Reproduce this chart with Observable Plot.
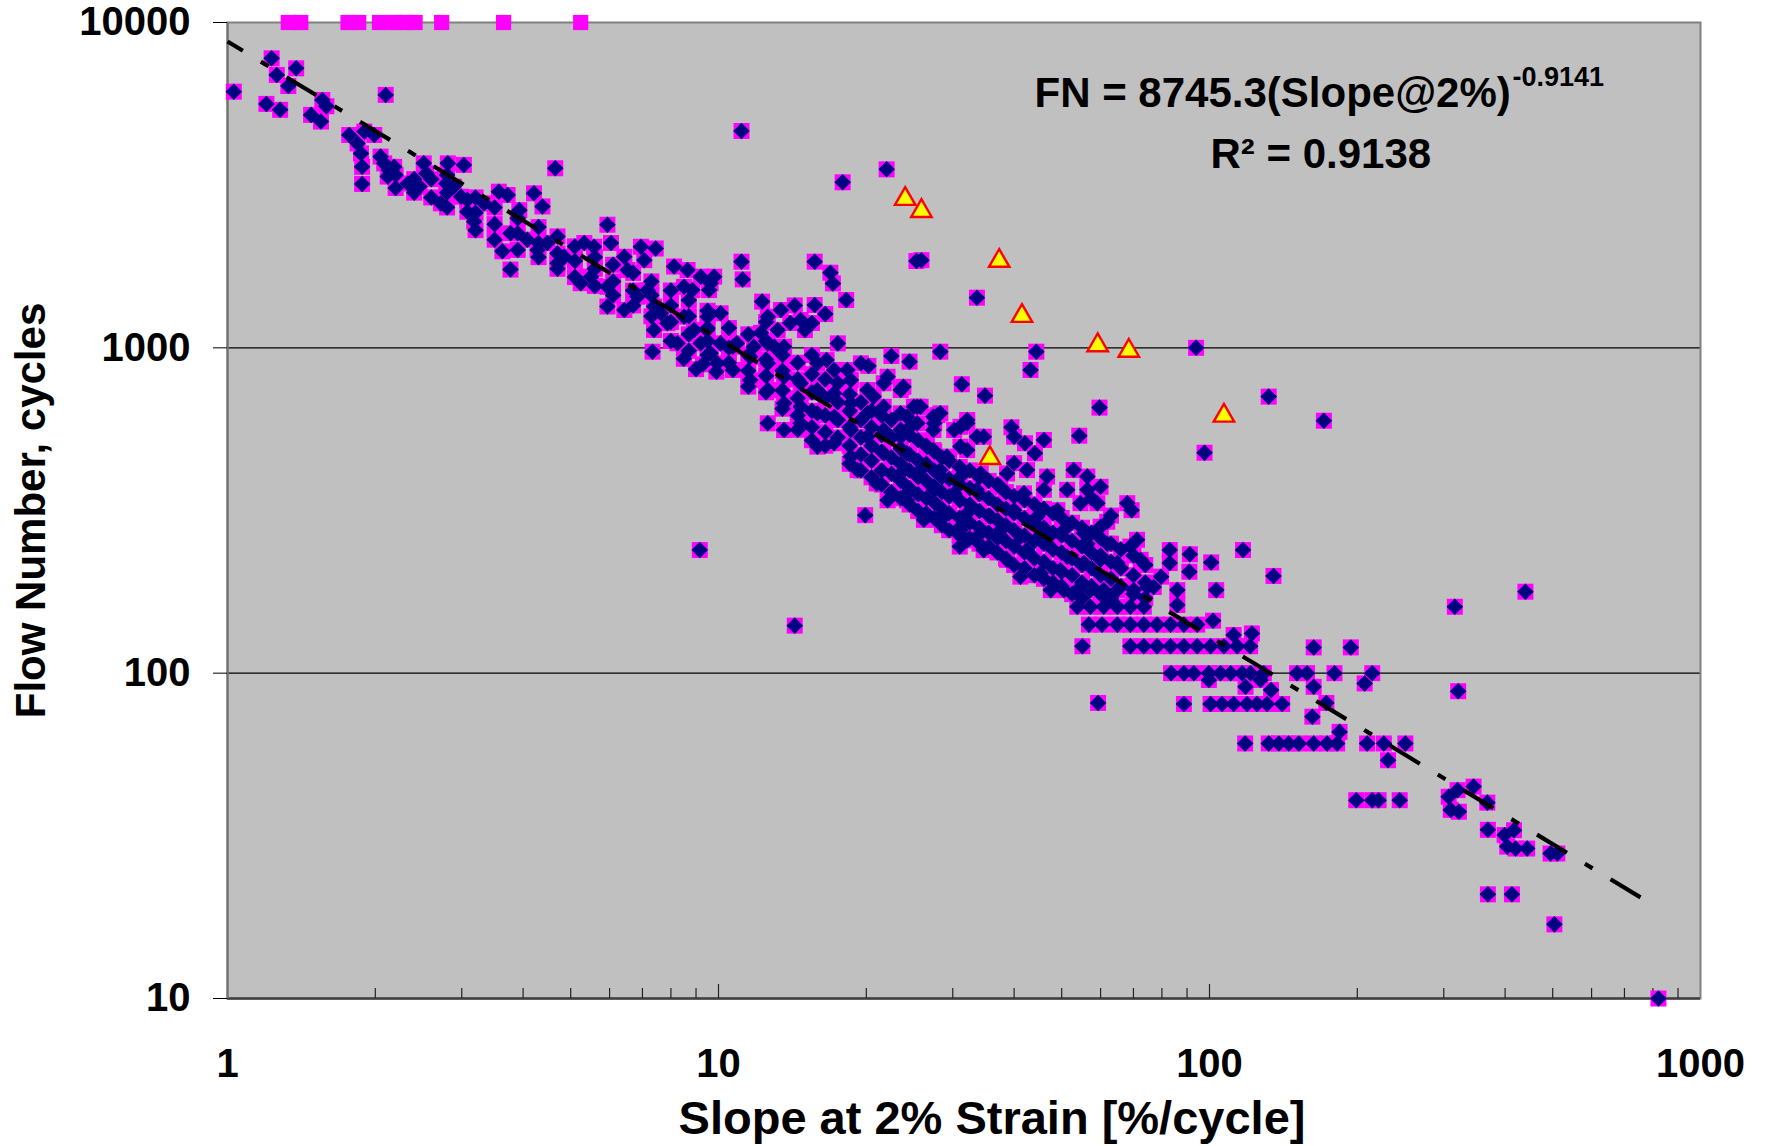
<!DOCTYPE html>
<html>
<head>
<meta charset="utf-8">
<script src="https://cdn.jsdelivr.net/npm/d3@7"></script>
<script src="https://cdn.jsdelivr.net/npm/@observablehq/plot@0.6"></script>
<style>
  html, body { margin: 0; padding: 0; background: #ffffff; }
  #chart { width: 1765px; height: 1146px; }
</style>
</head>
<body>
<div id="chart"></div>
<script>
// ---- Data ----
// Measured specimens: [slope at 2% strain (%/cycle), flow number (cycles)]
const measuredPoints = [
  [1.03,6130],[1.23,7760],[1.38,7230],[1.26,6900],[1.33,6380],[1.20,5620],[1.28,5390],[1.48,5200],
  [1.56,5780],[1.59,5530],[1.55,4960],[2.10,5990],[1.77,4510],[1.84,4250],[1.90,4620],[1.99,4510],
  [1.87,3960],[1.88,3600],[1.88,3190],[2.05,3870],[2.085,3690],[2.13,3520],[2.185,3600],[2.12,3360],
  [2.33,3200],[2.46,3130],[2.51,3690],[2.54,3440],[2.81,3690],[3.03,3650],[2.79,3200],[2.72,2780],
  [2.89,3130],[2.99,2915],[3.08,2850],[3.18,2445],[3.08,2620],[3.33,2780],[3.57,3020],[3.72,2950],
  [3.93,2650],[4.21,2985],[4.38,2720],[4.65,3565],[3.77,2250],[3.63,1980],[3.77,1740],[4.08,2150],
  [4.28,2000],[4.48,2100],[4.70,1820],[4.85,1905],[5.33,2100],[5.58,2045],[5.94,2390],[6.04,2100],
  [6.43,1905],[6.95,2045],[7.45,2020],[7.06,1860],[5.24,1580],[5.50,1655],[5.94,1540],[5.94,1340],
  [6.43,1307],[6.53,1735],[6.84,1436],[7.17,1505],[7.39,1340],[7.63,1277],[7.87,1190],[7.39,1135],
  [8.12,1778],[8.65,1735],[9.20,1655],[9.64,1580],[8.51,1540],[8.85,1505],[9.57,1505],[9.80,1655],
  [8.51,1247],[8.92,1135],[9.50,1247],[10.1,1277],[8.25,1033],[9.20,1033],[9.64,962],[7.34,973],
  [8.5,925],[9.9,845],[9.3,890],[9.0,860],
  [11.14,4640],[22.0,3537],[17.9,3227],[25.3,1848],[25.9,1860],[33.6,1426],[11.14,1840],[11.2,1623],
  [15.7,1840],[16.9,1702],[17.1,1578],[18.2,1403],[16.5,1270],[15.7,1354],[14.3,1350],[12.27,1387],
  [13.4,1307],[9.48,1134],[17.5,1032],[15.0,1134],[14.7,1218],[15.5,1192],[14.0,1192],[13.2,1134],
  [12.2,1112],[12.6,1246],[11.8,1008],[12.6,1032],[13.6,1008],[10.9,1032],[10.1,1032],[22.5,944],
  [24.5,907],[28.3,973],[20.2,880],[44.4,973],[43.2,855],[93.9,1000],[31.3,773],[34.9,713],
  [59.7,655],[39.5,570],[42.1,509],[46.0,521],[54.3,537],[44.1,474],
  [9.94,896],[10.7,1008],[10.7,855],[11.6,939],[11.6,796],[12.6,896],[12.6,742],[12.6,586],
  [13.6,815],[13.6,675],[13.6,559],[14.7,778],[14.7,659],[14.7,586],[15.9,896],[15.9,742],
  [15.9,629],[15.9,497],[17.2,855],[17.2,725],[17.2,614],[17.2,509],[18.6,796],[18.6,675],
  [18.6,559],[18.6,463],[20.1,742],[20.1,629],[20.1,533],[21.7,778],[21.7,659],[21.7,559],
  [21.7,474],[23.5,742],[23.5,629],[23.5,533],[25.4,659],[25.4,586],[27.4,614],[27.4,485],
  [30.2,559],[32.1,586],[33.6,533],[31.1,497],
  [13.0,1008],[16.6,917],[18.3,855],[20.7,708],[24.2,614],[25.8,659],[28.3,629],[27.4,559],
  [22.1,815],[19.5,896],
  [132,708],[171,597],[97.7,476],[117,239],[135,199],[163,120],[194,120],[100.8,219],[103.2,180],
  [101.7,145],[91.2,232],[91.0,205],[83.0,239],[83.0,218],[86,180],[86,162],[79.7,198],[74.7,184],
  [72.4,223],[71.2,257],[69.0,245],[68.0,333],[69.4,317],[61.9,292],[57.5,345],[63,305],
  [56.8,141],[60.4,141],[64.9,141],[69.0,141],[73.5,141],[78.2,141],[83.3,141],[88.7,141],[94.4,141],
  [55.1,121],[69,121],[73.5,121],[78.2,121],[83.3,121],[88.7,121],[94.4,121],[100.5,121],[107,121],
  [113.9,121],[121,121],[112,131],[122,132.5],
  [53.8,160],[57.2,160],[60.9,160],[64.9,160],[69,160],[73.5,160],
  [47.5,180],[50.5,180],[53.8,180],[57.2,180],[60.9,180],[64.9,180],[70.1,180],[77,184],
  [41.2,198],[45.3,203],[49.7,207],[55.5,218],[60.0,223],[64.9,218],
  [34.7,239],[38.7,223],[42.5,239],[46.7,250],[51.3,228],[56.4,250],[61.9,250],
  [31.1,275],[34.2,269],[37.5,275],[41.2,263],[45.3,263],[50.5,275],[55.5,269],[60,282],
  [26.2,296],[28.8,303],[32.1,310],[35.8,303],[40,317],[44.6,303],[49,317],[54.6,333],[59.1,333],
  [24.2,357],[27.5,366],[30.2,357],[33.6,366],[37.5,374],[41.9,357],[46,366],[51.3,366],[56.4,366],[60,374],
  [23.5,411],[25.8,421],[28.3,421],[31.1,402],[34.2,411],[38.7,411],[42.5,421],[46.7,402],[52.9,421],[56.4,402],
  [24.2,474],[26.6,497],[29.2,463],[32.1,485],[40,442],
  [24.6,572],[27.5,586],[31.1,572],[32.1,600],[34.7,533],[40,533],
  [23.8,759],[25,659],[27.9,621],
  [9.16,239],[14.3,140],[19.9,306],[19.2,421],[21,383],[22.1,340],[24.2,340],[26.6,303],[27.9,296],
  [31.1,282],[32.1,256],[34.7,239],
  [316,160],[440,178],[321,88],[59.3,81],
  [83.5,100],[88.7,100],[92.9,100],[99.7,100],[105.3,100],[110.4,100],[116.5,100],[121.2,100],[129,100],
  [150.8,100],[158,100],[179.7,100],[214.5,100],
  [207,93],[99.7,95.3],[118.4,90.8],[127,95.3],[133.5,88.7],[163,90.8],
  [88.7,80.4],[100.5,80.4],[106.1,80.4],[112,80.4],[119.3,80.4],[125,80.4],[131,80.4],[140.6,80.4],
  [173,81],[162,73.5],[184,66],
  [118.2,60.8],[132,60.8],[138.4,60.8],[145,60.8],[152,60.8],[163,60.8],[173.6,60.8],[182,60.8],
  [209.4,60.8],[226.5,60.8],[250.6,60.8],[231,54],
  [199,40.7],[214.5,40.7],[221,40.7],[244,40.7],
  [307,41.7],[320,43.7],[345,44.8],[368,40],[310,38],[322,37.5],
  [369,33],[399,31.8],[417,32.9],[404,29.3],[420,28.9],[443.6,28.9],[495,27.9],[511,27.9],
  [369,20.9],[413,20.9],[504,16.9],[821,10]
];

// Additional specimens read from the solid (overlapping) part of the main cloud, x = 10..75
const denseBandPoints = [
  [10.5,1150],[10.5,1000],[10.5,900],
  [11.5,1100],[11.5,950],[11.5,850],[11.5,760],
  [12.5,1200],[12.5,1050],[12.5,920],[12.5,820],[12.5,730],
  [13.5,950],[13.5,850],[13.5,740],[13.5,650],
  [14.5,900],[14.5,800],[14.5,700],[14.5,620],[14.5,560],
  [15.5,950],[15.5,830],[15.5,730],[15.5,640],[15.5,570],[15.5,520],
  [16.5,800],[16.5,700],[16.5,620],[16.5,550],[16.5,500],
  [17.5,780],[17.5,680],[17.5,600],[17.5,530],
  [18.5,720],[18.5,640],[18.5,570],[18.5,500],[18.5,440],
  [19.5,680],[19.5,600],[19.5,530],[19.5,470],[19.5,420],
  [20.5,640],[20.5,570],[20.5,500],[20.5,450],[20.5,400],
  [21.5,620],[21.5,540],[21.5,480],[21.5,420],[21.5,380],
  [22.5,600],[22.5,530],[22.5,460],[22.5,410],[22.5,360],
  [23.5,560],[23.5,490],[23.5,440],[23.5,390],[23.5,345],
  [24.5,540],[24.5,470],[24.5,420],[24.5,370],[24.5,330],
  [25.5,520],[25.5,450],[25.5,400],[25.5,355],[25.5,315],
  [26.5,500],[26.5,440],[26.5,390],[26.5,345],[26.5,310],
  [27.5,480],[27.5,420],[27.5,375],[27.5,335],[27.5,300],
  [28.5,460],[28.5,400],[28.5,360],[28.5,320],[28.5,285],
  [29.5,450],[29.5,395],[29.5,350],[29.5,310],[29.5,275],
  [31,430],[31,380],[31,340],[31,300],[31,265],[31,245],
  [32.5,420],[32.5,370],[32.5,330],[32.5,290],[32.5,260],
  [34,400],[34,355],[34,315],[34,280],[34,250],
  [35.5,390],[35.5,345],[35.5,305],[35.5,270],[35.5,245],
  [37,380],[37,330],[37,295],[37,260],[37,235],
  [38.5,360],[38.5,320],[38.5,285],[38.5,255],[38.5,225],
  [40,350],[40,310],[40,275],[40,245],[40,215],
  [42,340],[42,300],[42,265],[42,235],[42,210],
  [44,330],[44,290],[44,255],[44,225],[44,200],
  [46,320],[46,280],[46,250],[46,220],[46,195],
  [48,310],[48,270],[48,240],[48,210],[48,190],
  [50,300],[50,265],[50,235],[50,205],[50,185],
  [52.5,290],[52.5,255],[52.5,225],[52.5,200],[52.5,175],
  [55,280],[55,245],[55,215],[55,190],[55,170],
  [57.5,270],[57.5,235],[57.5,210],[57.5,185],
  [60,260],[60,230],[60,200],[60,175],
  [63,250],[63,220],[63,195],[63,170],
  [66,240],[66,210],[66,185],
  [70,230],[70,200],[70,175],
  [74,215],[74,190],[74,170]
];

// Additional specimens read from the upper-left part of the cloud, x = 2..10
const upperClusterPoints = [
  [2.2,3400],[2.2,3100],[2.4,3300],[2.4,3000],[2.6,3300],[2.6,2900],
  [2.8,3400],[2.8,3000],[2.8,2700],[3.2,2900],[3.2,2600],[3.2,2300],
  [3.5,2700],[3.5,2400],[3.5,2150],[3.9,2500],[3.9,2250],[3.9,2000],
  [4.3,2350],[4.3,2100],[4.3,1900],[4.7,2200],[4.7,1950],[4.7,1750],
  [5.1,2050],[5.1,1850],[5.1,1650],[5.6,1900],[5.6,1750],[5.6,1550],
  [6.1,1800],[6.1,1600],[6.1,1450],[6.7,1700],[6.7,1500],[6.7,1350],
  [7.3,1600],[7.3,1450],[7.3,1250],[8,1500],[8,1350],[8,1200],[8,1050],
  [8.7,1400],[8.7,1250],[8.7,1100],[8.7,980],[9.5,1300],[9.5,1150],[9.5,1050],[9.5,950]
];

// Highlighted specimens (yellow triangles)
const highlightedPoints = [
  [24.0,2930],[25.9,2690],[37.3,1890],[41.5,1280],[59.2,1040],[68.5,1000],[107,632],[35.7,468]
];

// Specimens plotted at the top of the axis (flow number >= 10000)
const topSlopes = [1.33,1.41,1.76,1.85,2.04,2.19,2.31,2.41,2.73,3.65,5.24];
const topFlow = 10000;

// Power-law fit FN = 8745.3 (Slope@2%)^-0.9141, endpoints as drawn
const fitSlopes = [1, 791];
const fitFlow = [8745.3, 19.6];

// Axis ticks
const xTicks = [1, 10, 100, 1000];
const xMajorInner = [10, 100];
const xMinorTicks = [2,3,4,5,6,7,8,9,20,30,40,50,60,70,80,90,200,300,400,500,600,700,800,900];
const yTicks = [10, 100, 1000, 10000];
const yGrid = [100, 1000];

const equationText = "FN = 8745.3(Slope@2%)";
const exponentText = "-0.9141";
const r2Text = "R² = 0.9138";
const xLabel = "Slope at 2% Strain [%/cycle]";
const yLabel = "Flow Number, cycles";

// ---- Layout ----
const W = 1765, H = 1146;
const mTop = 22, mBottom = 148, mLeft = 227, mRight = 65;
const frameH = H - mTop - mBottom;
const FONT = "'Liberation Sans', Arial, Helvetica, sans-serif";

const allDiamonds = measuredPoints.concat(upperClusterPoints, denseBandPoints);
const fitLine = fitSlopes.map((s, i) => ({slope: s, fn: fitFlow[i]}));
const topPts = topSlopes.map(s => ({slope: s, fn: topFlow}));

const chart = Plot.plot({
  width: W,
  height: H,
  marginTop: mTop,
  marginBottom: mBottom,
  marginLeft: mLeft,
  marginRight: mRight,
  style: {fontFamily: FONT, fontWeight: "bold", color: "#000", background: "#fff", overflow: "visible"},
  x: {type: "log", domain: [1, 1000]},
  y: {type: "log", domain: [10, 10000]},
  marks: [
    Plot.frame({fill: "#c0c0c0"}),
    Plot.ruleY(yGrid, {y: d => d, stroke: "#000", strokeWidth: 1.2}),
    Plot.frame({stroke: "#808080", strokeWidth: 2}),
    Plot.ruleY([10], {y: d => d, stroke: "#404040", strokeWidth: 2.5}),
    Plot.ruleX([1], {x: d => d, stroke: "#707070", strokeWidth: 2}),
    Plot.tickX(xMinorTicks, {x: d => d, insetTop: frameH - 10, stroke: "#222", strokeWidth: 1.2}),
    Plot.tickX(xMajorInner, {x: d => d, insetTop: frameH - 14, stroke: "#222", strokeWidth: 1.2}),
    Plot.axisY({ticks: yTicks, tickSize: 14, tickPadding: 23, tickFormat: d => String(d), fontSize: 40, fontWeight: "bold", label: null, stroke: "#000"}),
    Plot.axisX({ticks: xTicks, tickSize: 0, tickPadding: 50, tickFormat: d => String(d), fontSize: 40, fontWeight: "bold", label: null}),
    // magenta marker backgrounds
    Plot.dot(allDiamonds, {x: d => d[0], y: d => d[1], symbol: "square", r: 9.03, fill: "#ff00ff", stroke: "none"}),
    Plot.dot(topPts, {x: "slope", y: "fn", symbol: "square", r: 8.6, fill: "#ff00ff", stroke: "none"}),
    // navy diamonds
    Plot.dot(allDiamonds, {x: d => d[0], y: d => d[1], symbol: "diamond2", r: 7.45, fill: "#000080", stroke: "none"}),
    // fitted trend
    Plot.line(fitLine, {x: "slope", y: "fn", stroke: "#000", strokeWidth: 4.2, strokeDasharray: "35,21,9,21", strokeDashoffset: 17, strokeLinecap: "butt"}),
    // highlighted triangles
    Plot.dot(highlightedPoints, {x: d => d[0], y: d => d[1], symbol: "triangle", r: 7.6, dy: 3, fill: "#ffff00", stroke: "#ff0000", strokeWidth: 2.4}),
    // equation annotation
    Plot.text([equationText], {text: d => d, frameAnchor: "top-left", dx: 1034 - mLeft, dy: 106 - mTop, textAnchor: "start", lineAnchor: "bottom", fontSize: 42, fontWeight: "bold", fill: "#000"}),
    Plot.text([exponentText], {text: d => d, frameAnchor: "top-left", dx: 1512 - mLeft, dy: 85 - mTop, textAnchor: "start", lineAnchor: "bottom", fontSize: 27, fontWeight: "bold", fill: "#000"}),
    Plot.text([r2Text], {text: d => d, frameAnchor: "top-left", dx: 1210 - mLeft, dy: 167 - mTop, textAnchor: "start", lineAnchor: "bottom", fontSize: 42, fontWeight: "bold", fill: "#000"}),
    // axis titles
    Plot.text([xLabel], {text: d => d, frameAnchor: "bottom", dx: 28, dy: 1133 - (H - mBottom), textAnchor: "middle", lineAnchor: "bottom", fontSize: 47, fontWeight: "bold", fill: "#000"}),
    Plot.text([yLabel], {text: d => d, frameAnchor: "left", dx: 31 - mLeft, rotate: -90, textAnchor: "middle", lineAnchor: "middle", fontSize: 42, fontWeight: "bold", fill: "#000"})
  ]
});

document.getElementById("chart").appendChild(chart);
</script>
</body>
</html>
